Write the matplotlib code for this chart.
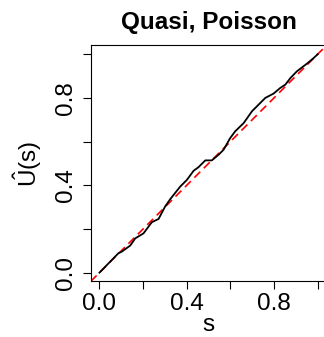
import numpy as np
import matplotlib
matplotlib.use("Agg")
import matplotlib.pyplot as plt

s_vals = [0.0, 0.087, 0.102, 0.141, 0.164, 0.202, 0.240, 0.271, 0.301, 0.324,
          0.370, 0.401, 0.431, 0.454, 0.485, 0.515, 0.546, 0.569, 0.599, 0.622,
          0.661, 0.699, 0.737, 0.760, 0.798, 0.829, 0.852, 0.875, 0.905, 0.951,
          0.982, 1.0]
u_vals = [0.0, 0.089, 0.096, 0.124, 0.157, 0.180, 0.231, 0.246, 0.303, 0.336,
          0.394, 0.425, 0.466, 0.483, 0.514, 0.514, 0.540, 0.563, 0.616, 0.647,
          0.685, 0.739, 0.777, 0.800, 0.820, 0.846, 0.861, 0.891, 0.922, 0.957,
          0.983, 1.0]
tick_pos = [0.0, 0.2, 0.4, 0.6, 0.8, 1.0]
tick_lab = ["0.0", "", "0.4", "", "0.8", ""]

plt.rcParams['font.family'] = ['Liberation Sans', 'DejaVu Sans']
plt.rcParams['mathtext.fontset'] = 'custom'
plt.rcParams['mathtext.rm'] = 'Liberation Sans'

fig = plt.figure(figsize=(3.24, 3.37), dpi=100)
ax = fig.add_axes([0.28, 0.165, 0.7274, 0.7])

ax.plot([-1, 2], [-1, 2], color='red', linestyle=(0, (5, 3)), lw=1.2)
ax.plot(s_vals, u_vals, color='black', lw=1.3)

ax.set_xlim(-0.04, 1.04)
ax.set_ylim(-0.04, 1.04)
ax.set_xticks(tick_pos)
ax.set_xticklabels(tick_lab)
ax.set_yticks(tick_pos)
ax.set_yticklabels(tick_lab, rotation=90, va='center')
ax.tick_params(direction='out', length=5.5, width=0.8, labelsize=17.5, pad=3)
ax.tick_params(axis='y', pad=4.5)

ax.set_xlabel('s', fontsize=17.5, labelpad=-1)
ax.set_ylabel(r'$\hat{\mathrm{U}}\mathrm{(s)}$', fontsize=17.5)
ax.yaxis.set_label_coords(-0.20, 0.5)
ax.set_title('Quasi, Poisson', fontsize=17.5, fontweight='bold', pad=12)

fig.savefig('out.png', dpi=100)
